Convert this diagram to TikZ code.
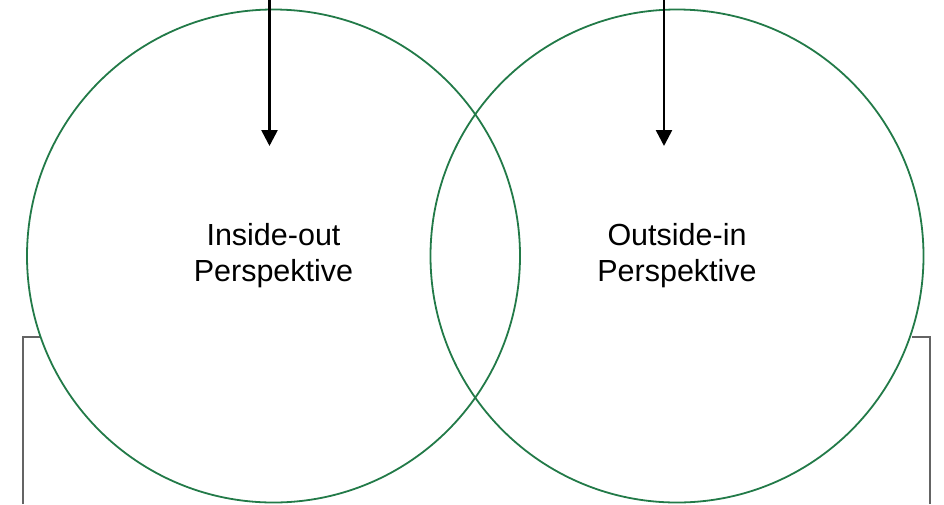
\documentclass[tikz,border=0pt]{standalone}
\usepackage{fontspec}
\setmainfont{Liberation Sans}
\usetikzlibrary{arrows.meta, positioning}
\definecolor{venngreen}{RGB}{34, 122, 72}
\definecolor{framegray}{RGB}{100, 100, 100}

\begin{document}
\begin{tikzpicture}[
  x=1pt, y=-1pt,
  persp/.style={draw=venngreen, line width=1.8pt, circle, minimum size=493pt, inner sep=0pt, align=center, font=\fontsize{30.5}{36}\selectfont},
  inflow/.style={line width=2.6pt, -{Triangle[length=16pt, width=16pt]}},
  frame/.style={draw=framegray, line width=1.8pt}
]
  \useasboundingbox (0, 0) rectangle (944, 504);

  % bracket behind the circles
  \coordinate (lbot) at (23, 504);
  \coordinate (lcorner) at (23, 337);
  \coordinate (lend) at (40, 337);
  \coordinate (rbot) at (930, 504);
  \coordinate (rcorner) at (930, 337);
  \coordinate (rend) at (912, 337);
  \draw[frame] (lbot) -- (lcorner) -- (lend);
  \draw[frame] (rbot) -- (rcorner) -- (rend);

  % the two perspectives
  \node[persp] (inside) at (273.5, 256) {Inside-out\\Perspektive};
  \node[persp] (outside) at (677, 256) {Outside-in\\Perspektive};

  % arrows coming in from above
  \coordinate (intop) at (269.5, 0);
  \coordinate (inend) at (269.5, 146);
  \coordinate (outtop) at (664, 0);
  \coordinate (outend) at (664, 146);
  \draw[inflow] (intop) -- (inend);
  \draw[inflow] (outtop) -- (outend);
\end{tikzpicture}
\end{document}
